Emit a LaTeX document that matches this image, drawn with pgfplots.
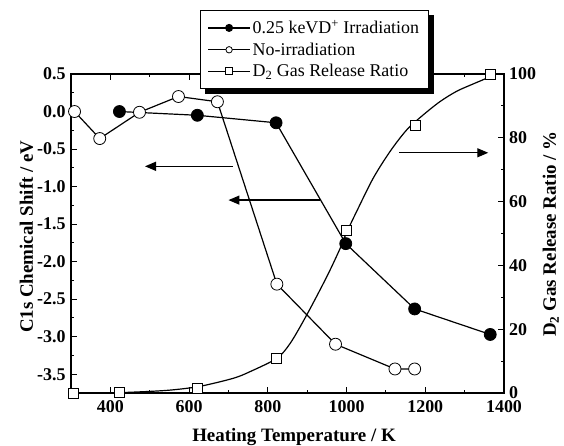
\documentclass[border=0pt]{standalone}
\usepackage{fontspec}
\setmainfont{Liberation Serif}
\usepackage{pgfplots}
\pgfplotsset{compat=1.18}
\usetikzlibrary{arrows.meta}
\begin{document}
\begin{tikzpicture}
\useasboundingbox (-71bp,-53bp) rectangle (493bp,393bp);
\pgfplotsset{
  mybase/.style={
    at={(0,0)}, anchor=south west, scale only axis, width=433bp, height=319bp,
    xmin=300, xmax=1400, clip=false,
    axis line style={line width=1.3bp},
    tick align=inside,
    every tick/.style={line width=1bp, black},
    major tick length=6bp, minor tick length=3.5bp,
    tick label style={font=\fontsize{18}{20}\selectfont\bfseries},
    label style={font=\fontsize{19}{22}\selectfont\bfseries},
  }
}
\begin{axis}[mybase,
  ymin=-3.75, ymax=0.5,
  xtick={400,600,800,1000,1200,1400}, xticklabels={400,600,800,1000,1200,1400},
  minor xtick={300,500,700,900,1100,1300},
  ytick={-3.5,-3,-2.5,-2,-1.5,-1,-0.5,0,0.5},
  yticklabels={-3.5,-3.0,-2.5,-2.0,-1.5,-1.0,-0.5,0.0,0.5},
  minor ytick={-3.25,-2.75,-2.25,-1.75,-1.25,-0.75,-0.25,0.25},
  ytick pos=left,
  xticklabel style={yshift=-6.5bp, inner sep=1bp},
  yticklabel style={xshift=-2bp},
  xlabel={Heating Temperature / K},
  ylabel={C1s Chemical Shift / eV},
  xlabel style={at={(axis description cs:0.515,-0.1536)},anchor=base},
  ylabel style={at={(axis description cs:-0.088,0.49)},anchor=base},
]
\addplot[line width=1.2bp, mark=*, mark size=6bp, mark options={fill=black, line width=0.8bp}]
  coordinates {(423,0.0) (621,-0.05) (821,-0.15) (998,-1.76) (1173,-2.63) (1365,-2.97)};
\addplot[line width=1.2bp, mark=*, mark size=6bp, mark options={fill=white, line width=0.8bp}]
  coordinates {(309,0.0) (373,-0.36) (474,-0.01) (573,0.20) (672,0.13) (823,-2.30) (972,-3.10) (1123,-3.43) (1173,-3.43)};
\draw[-{Triangle[length=11bp,width=9bp]}, line width=1.3bp] (axis cs:712,-0.73) -- (axis cs:488,-0.73);
\draw[-{Triangle[length=11bp,width=9bp]}, line width=1.3bp] (axis cs:933,-1.18) -- (axis cs:700,-1.18);
\end{axis}
\begin{axis}[mybase,
  ymin=0, ymax=100,
  axis x line=none, axis y line*=right,
  ytick={0,20,40,60,80,100}, yticklabels={0,20,40,60,80,100},
  minor ytick={10,30,50,70,90},
  yticklabel style={xshift=1bp, inner sep=1bp, xshift=3bp},
  ylabel={D\textsubscript{2} Gas Release Ratio / \%},
  ylabel style={at={(axis description cs:1.12,0.498)},anchor=base},
  legend style={at={(axis description cs:0.2979,1.2006)}, anchor=north west,
    name=leg,
    draw=black, line width=1bp, fill=white,
    font=\fontsize{18}{21}\selectfont,
    inner xsep=7bp, inner ysep=8bp, row sep=3.5bp,
    /tikz/every even column/.append style={column sep=2bp}},
  legend cell align=left,
]
\addlegendimage{legend image code/.code={\draw[line width=1.2bp] (0bp,0bp)--(42bp,0bp); \fill (21bp,0bp) circle (3.5bp);}}
\addlegendentry{0.25 keVD\textsuperscript{+} Irradiation}
\addlegendimage{legend image code/.code={\draw[line width=1.2bp] (0bp,0bp)--(42bp,0bp); \filldraw[fill=white,line width=0.8bp] (21bp,0bp) circle (3.2bp);}}
\addlegendentry{No-irradiation}
\addlegendimage{legend image code/.code={\draw[line width=1.2bp] (0bp,0bp)--(42bp,0bp); \filldraw[fill=white,line width=0.8bp] (17.5bp,-3.5bp) rectangle (24.5bp,3.5bp);}}
\addlegendentry{D\textsubscript{2} Gas Release Ratio}
\addplot[line width=1.2bp] coordinates {(306,0) (423,0.1)};
\addplot[line width=1.2bp, smooth] coordinates {(423,0.1) (500,0.5) (560,1.0) (628,2.1) (712,4.6) (755,6.7) (823,10.9) (857,15.6) (899,24.5) (950,36.5) (984,45.4) (999,50) (1026,57) (1068,67.4) (1111,75.8) (1153,82.5) (1195,87.2) (1238,91.4) (1280,94.6) (1322,96.9) (1356,98.7) (1365,99.6)};
\addplot[only marks, mark=square*, mark size=5bp, mark options={fill=white, line width=0.8bp}]
  coordinates {(306,0) (423,0.1) (622,1.5) (823,10.9) (999,51.0) (1174,84.0) (1365,100)};
\draw[-{Triangle[length=11bp,width=9bp]}, line width=1.3bp] (axis cs:1134,75.3) -- (axis cs:1360,75.3);
\end{axis}
\fill[black] ([yshift=-5bp]leg.north east) rectangle ([xshift=5bp,yshift=-5bp]leg.south east);
\fill[black] ([xshift=5bp]leg.south west) rectangle ([xshift=5bp,yshift=-5bp]leg.south east);
\end{tikzpicture}
\end{document}
